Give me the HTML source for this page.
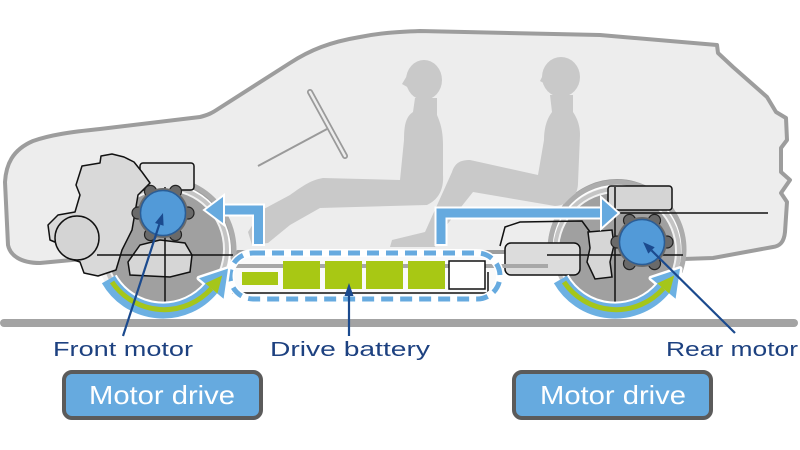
<!DOCTYPE html>
<html><head><meta charset="utf-8"><style>
html,body{margin:0;padding:0;background:#fff;}
svg{display:block;}
text{font-family:"Liberation Sans",sans-serif;}
</style></head><body>
<svg width="800" height="450" viewBox="0 0 800 450" xmlns="http://www.w3.org/2000/svg">
<rect width="800" height="450" fill="#fff"/>
<!-- car body -->
<path d="M5,182 C6,165 12,150 33,141 C50,135 70,132 100,129 L200,117 C208,115 212,113 218,109 L290,63 C310,50 330,42 360,37 C380,33 395,32 420,31 L600,35 L717,45 L718,53 L733,67 L767,97 L776,112 L786,118 L787,140 L781,148 L781,172 L790,180 L781,193 L787,202 L785,232 C784,242 780,246 773,247 L713,258 L683,259 A67,67 0 1 0 550.8,259 L545,252 L238,252 L232.6,258 A70,70 0 1 0 93.4,258 L40,263 C20,263 10,255 8,245 Z" fill="#ededed" stroke="#9d9d9d" stroke-width="4" stroke-linejoin="round"/>
<!-- people -->
<g fill="#c9c9c9">
<ellipse cx="424" cy="80" rx="18" ry="20"/>
<path d="M408,74 L402,84 L409,88 Z"/>
<path d="M415,98 L413,112 C405,117 404,128 404,140 L400,180 L323,178 C310,180 300,188 290,195 L262,210 L248,232 L252,245 L268,243 L290,225 L320,208 L427,205 C438,200 444,190 443,175 L443,145 C443,130 440,122 437,115 L437,98 Z"/>
<ellipse cx="561" cy="77" rx="19" ry="20"/>
<path d="M545,71 L540,81 L547,85 Z"/>
<path d="M550,95 L552,112 C546,120 544,130 544,140 L538,175 L470,160 C460,160 455,163 452,172 L425,232 L392,240 L390,247 L435,247 L438,236 L473,192 L555,206 C570,205 578,195 578,183 L580,135 C580,125 577,118 573,112 L573,95 Z"/>
</g>
<!-- steering -->
<line x1="258" y1="166" x2="327" y2="129" stroke="#9a9a9a" stroke-width="2"/>
<line x1="310" y1="92" x2="345" y2="156" stroke="#9a9a9a" stroke-width="6" stroke-linecap="round"/>
<line x1="310" y1="92" x2="345" y2="156" stroke="#ececec" stroke-width="2.5" stroke-linecap="round"/>

<!-- front wheel -->
<circle cx="163" cy="251" r="66" fill="#f2f2f2"/>
<circle cx="165" cy="249" r="62" fill="none" stroke="#c4c4c4" stroke-width="4"/>
<circle cx="165" cy="249" r="58" fill="#a0a0a0"/>
<path d="M96.3,274.3 A71,71 0 1 1 229.7,274.3" fill="none" stroke="#acacac" stroke-width="5"/>
<!-- front engine -->
<rect x="140" y="163" width="54" height="27" rx="3" fill="#e4e4e4" stroke="#111" stroke-width="1.5"/>
<path d="M82,166 L100,163 L101,156 L112,154 L124,157 L134,162 L142,172 L150,183 L138,195 L132,230 L122,250 L116,270 L98,276 L84,273 L80,262 L68,258 L62,245 L50,240 L48,225 L58,215 L75,212 L80,195 L76,185 Z" fill="#d9d9d9" stroke="#111" stroke-width="1.5" stroke-linejoin="round"/>
<circle cx="77" cy="238" r="22" fill="#d4d4d4" stroke="#111" stroke-width="1.5"/>
<path d="M128,262 L140,245 L160,240 L185,243 L192,255 L190,272 L170,277 L130,275 Z" fill="#d6d6d6" stroke="#111" stroke-width="1.5"/>
<line x1="165" y1="187" x2="165" y2="303" stroke="#111" stroke-width="1.5"/>
<line x1="97" y1="255" x2="233" y2="255" stroke="#111" stroke-width="1.5"/>
<g fill="#6a6a6a" stroke="#222" stroke-width="1.2">
<circle cx="188" cy="213" r="6"/><circle cx="175.5" cy="234.6" r="6"/><circle cx="150.5" cy="234.6" r="6"/>
<circle cx="138" cy="213" r="6"/><circle cx="150.5" cy="191.4" r="6"/><circle cx="175.5" cy="191.4" r="6"/>
</g>
<circle cx="163" cy="213" r="25" fill="#6a6a6a"/>
<circle cx="163" cy="213" r="22.5" fill="#529ad8" stroke="#2a5d96" stroke-width="1.5"/>

<!-- rear wheel -->
<circle cx="617" cy="249" r="63" fill="#f2f2f2"/>
<circle cx="617" cy="251" r="62" fill="none" stroke="#c4c4c4" stroke-width="4"/>
<circle cx="617" cy="251" r="58" fill="#a0a0a0"/>
<path d="M554,272 A67,67 0 1 1 680,272" fill="none" stroke="#acacac" stroke-width="5"/>
<path d="M500,246 L505,227 L520,222 L582,221 L590,232" fill="none" stroke="#111" stroke-width="1.5"/>
<rect x="505" y="243" width="75" height="32" rx="6" fill="#dcdcdc" stroke="#111" stroke-width="1.5"/>
<path d="M588,232 L612,230 L614,245 L610,262 L612,277 L595,279 L587,262 L590,248 Z" fill="#d6d6d6" stroke="#111" stroke-width="1.5"/>
<rect x="608" y="186" width="64" height="24" rx="3" fill="#d5d5d5" stroke="#111" stroke-width="1.5"/>
<line x1="613" y1="213" x2="768" y2="213" stroke="#111" stroke-width="1.5"/>
<line x1="547" y1="255" x2="683" y2="255" stroke="#111" stroke-width="1.5"/>
<line x1="615" y1="187" x2="615" y2="303" stroke="#111" stroke-width="1.5"/>
<g fill="#6a6a6a" stroke="#222" stroke-width="1.2">
<circle cx="667" cy="242" r="6"/><circle cx="654.5" cy="263.6" r="6"/><circle cx="629.5" cy="263.6" r="6"/>
<circle cx="617" cy="242" r="6"/><circle cx="629.5" cy="220.4" r="6"/><circle cx="654.5" cy="220.4" r="6"/>
</g>
<circle cx="642" cy="242" r="25" fill="#6a6a6a"/>
<circle cx="642" cy="242" r="22.5" fill="#529ad8" stroke="#2a5d96" stroke-width="1.5"/>

<!-- battery -->
<rect x="230" y="253" width="270" height="46" rx="23" fill="#fafafa"/>
<line x1="232" y1="266" x2="548" y2="266" stroke="#a8a8a8" stroke-width="4"/>
<polyline points="233,275 233,293 488,293 488,272" fill="none" stroke="#111" stroke-width="1.5"/>
<g fill="#a8c814">
<rect x="242" y="272" width="36" height="13"/>
<rect x="283" y="261" width="37" height="28"/>
<rect x="325" y="261" width="37" height="28"/>
<rect x="366" y="261" width="37" height="28"/>
<rect x="408" y="261" width="37" height="28"/>
</g>
<rect x="449" y="261" width="36" height="28" fill="#fff" stroke="#111" stroke-width="1.5"/>
<rect x="230" y="253" width="270" height="46" rx="23" fill="none" stroke="#fff" stroke-width="8"/>
<rect x="230" y="253" width="270" height="46" rx="23" fill="none" stroke="#66aadf" stroke-width="5" stroke-dasharray="12 7"/>

<!-- blue flow arrows -->
<g fill="none" stroke-linejoin="miter">
<polyline points="258.5,246 258.5,210 222,210" stroke="#fff" stroke-width="13"/>
<polyline points="441,246 441,213 602,213" stroke="#fff" stroke-width="13"/>
<polyline points="258.5,244 258.5,210 222,210" stroke="#66aadf" stroke-width="9"/>
<polyline points="441,244 441,213 602,213" stroke="#66aadf" stroke-width="9"/>
</g>
<polygon points="204,210 224,195 224,225" fill="#66aadf" stroke="#fff" stroke-width="2"/>
<polygon points="619,213 601,197 601,229" fill="#66aadf" stroke="#fff" stroke-width="2"/>

<!-- curved arrows -->
<g>
<path d="M108.4,279.5 A63,63 0 0 0 211.3,288.5" fill="none" stroke="#fff" stroke-width="19"/>
<polygon points="228,268.6 223.6,298.8 199,278.2" fill="#fff" stroke="#fff" stroke-width="5" stroke-linejoin="round"/>
<path d="M108.4,279.5 A63,63 0 0 0 211.3,288.5" fill="none" stroke="#6cb0e2" stroke-width="15"/>
<polygon points="228,268.6 223.6,298.8 199,278.2" fill="#6cb0e2"/>
<path d="M112,282 A63,63 0 0 0 211.3,288.5" fill="none" stroke="#a5c61a" stroke-width="5"/>
<polygon points="222.2,275.5 217.4,293.6 205.2,283.4" fill="#a5c61a"/>
</g>
<g transform="translate(452,0)">
<path d="M108.4,279.5 A63,63 0 0 0 211.3,288.5" fill="none" stroke="#fff" stroke-width="19"/>
<polygon points="228,268.6 223.6,298.8 199,278.2" fill="#fff" stroke="#fff" stroke-width="5" stroke-linejoin="round"/>
<path d="M108.4,279.5 A63,63 0 0 0 211.3,288.5" fill="none" stroke="#6cb0e2" stroke-width="15"/>
<polygon points="228,268.6 223.6,298.8 199,278.2" fill="#6cb0e2"/>
<path d="M112,282 A63,63 0 0 0 211.3,288.5" fill="none" stroke="#a5c61a" stroke-width="5"/>
<polygon points="222.2,275.5 217.4,293.6 205.2,283.4" fill="#a5c61a"/>
</g>

<!-- ground -->
<rect x="0" y="319" width="798" height="8" rx="4" fill="#a3a3a3"/>

<!-- pointers -->
<g stroke="#1b4a8e" stroke-width="2.2" fill="none">
<line x1="123" y1="336" x2="159.3" y2="224.4"/>
<line x1="349" y1="336" x2="349" y2="294"/>
<line x1="735" y1="333" x2="651.5" y2="250.4"/>
</g>
<g fill="#1b4a8e">
<polygon points="163,213 163.6,225.8 155,223"/>
<polygon points="349,283 353.5,296 344.5,296"/>
<polygon points="643,242 654.7,247.2 648.3,253.6"/>
</g>

<!-- labels -->
<g fill="#1d4180" font-size="20">
<text x="53" y="356" textLength="140" lengthAdjust="spacingAndGlyphs">Front motor</text>
<text x="270" y="356" textLength="160" lengthAdjust="spacingAndGlyphs">Drive battery</text>
<text x="666" y="356" textLength="132" lengthAdjust="spacingAndGlyphs">Rear motor</text>
</g>

<!-- buttons -->
<rect x="64" y="372" width="197" height="46" rx="8" fill="#66aadf" stroke="#5b5b5b" stroke-width="4"/>
<rect x="514" y="372" width="197" height="46" rx="8" fill="#66aadf" stroke="#5b5b5b" stroke-width="4"/>
<g fill="#fff" font-size="26">
<text x="89" y="404" textLength="146" lengthAdjust="spacingAndGlyphs">Motor drive</text>
<text x="540" y="404" textLength="146" lengthAdjust="spacingAndGlyphs">Motor drive</text>
</g>
</svg>
</body></html>
